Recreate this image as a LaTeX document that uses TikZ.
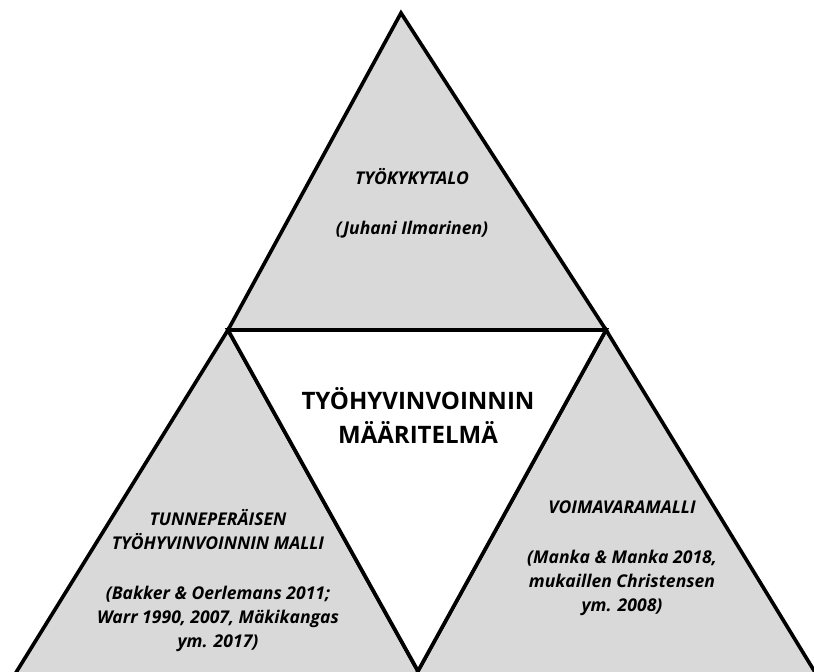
\documentclass[tikz,border=0pt]{standalone}
\usepackage{fontspec}
\setmainfont{Open Sans}
\usetikzlibrary{positioning}
\definecolor{triGray}{HTML}{D9D9D9}

\begin{document}
\begin{tikzpicture}[x=0.03cm, y=-0.03cm, line width=3.1pt, line join=miter,
    tri/.style={draw=black, fill=triGray},
    reftext/.style={font=\fontsize{15}{20.5}\selectfont\bfseries\itshape, align=center},
    maintext/.style={font=\fontsize{20.5}{29}\selectfont\bfseries, align=center}]
  \useasboundingbox (0,0) rectangle (814,671);
  \clip (0,0) rectangle (814,671);
  % the three grey triangles
  \draw[tri] (401,13) -- (606,330) -- (228,330) -- cycle;
  \draw[tri] (228,330) -- (434,700) -- (-1,700) -- cycle;
  \draw[tri] (606,330) -- (832,700) -- (402,700) -- cycle;
  % white middle triangle
  \draw[fill=white] (228,330) -- (606,330) -- (418,671) -- cycle;
  % texts
  \node[reftext] (topTitle) at (412,177) {TYÖKYKYTALO};
  \node[reftext] (topRef) at (412,230) {(Juhani Ilmarinen)};
  \node[maintext] (centre) at (418,415) {TYÖHYVINVOINNIN\\MÄÄRITELMÄ};
  \node[reftext] (leftTitle) at (218,530) {TUNNEPERÄISEN\\TYÖHYVINVOINNIN MALLI};
  \node[reftext] (leftRef) at (218,619)
    {(Bakker \& Oerlemans 2011;\\Warr 1990, 2007, Mäkikangas\\ym. 2017)};
  \node[reftext] (rightTitle) at (622,507) {VOIMAVARAMALLI};
  \node[reftext] (rightRef) at (622,583)
    {(Manka \& Manka 2018,\\mukaillen Christensen\\ym. 2008)};
\end{tikzpicture}
\end{document}
